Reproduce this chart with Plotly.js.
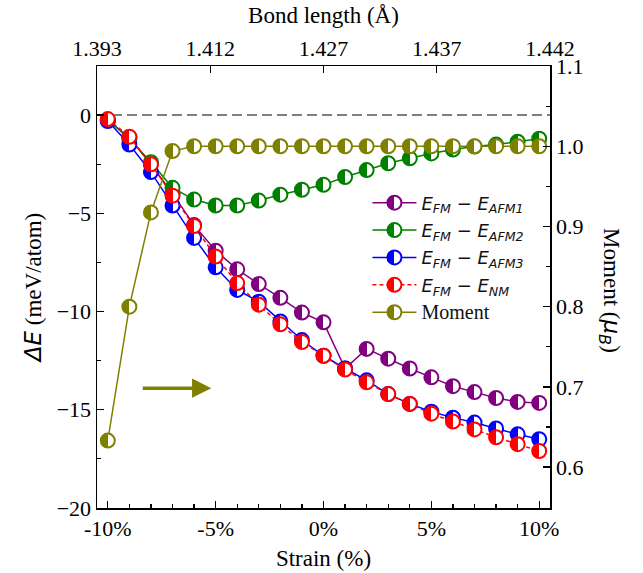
<!DOCTYPE html>
<html><head><meta charset="utf-8">
<script src="https://cdn.plot.ly/plotly-3.0.1.min.js"></script>
<style>body{margin:0;background:#fff}</style>
</head><body>
<div id="chart" style="width:643px;height:573px"></div>
<script>
// ---- data ----
const strain = [-10,-9,-8,-7,-6,-5,-4,-3,-2,-1,0,1,2,3,4,5,6,7,8,9,10];
const eAFM1 = [-0.25,-1.15,-2.5,-4.0,-5.6,-6.9,-7.85,-8.6,-9.3,-10.05,-10.55,-12.9,-11.9,-12.4,-12.9,-13.35,-13.8,-14.1,-14.4,-14.6,-14.65];
const eAFM2 = [-0.25,-1.2,-2.4,-3.7,-4.3,-4.6,-4.6,-4.35,-4.05,-3.8,-3.55,-3.15,-2.8,-2.45,-2.2,-1.95,-1.75,-1.6,-1.5,-1.35,-1.2];
const eAFM3 = [-0.3,-1.5,-2.9,-4.6,-6.25,-7.75,-8.9,-9.5,-10.5,-11.45,-12.25,-12.9,-13.5,-14.2,-14.7,-15.1,-15.4,-15.65,-15.95,-16.25,-16.5];
const eNM   = [-0.2,-1.1,-2.5,-4.1,-5.65,-7.2,-8.55,-9.65,-10.65,-11.55,-12.25,-12.95,-13.6,-14.2,-14.7,-15.2,-15.6,-16.0,-16.4,-16.75,-17.1];
const moment = [0.633,0.80,0.9175,0.994,1.0,1.0,1.0,1.0,1.0,1.0,1.0,1.0,1.0,1.0,1.0,1.0,1.0,1.0,1.0,1.0,1.0];
const strainTicks = [-10,-5,0,5,10];
const strainLabels = ['-10%','-5%','0%','5%','10%'];
const bondLabels = ['1.393','1.412','1.427','1.437','1.442'];
const leftTicks = [-20,-15,-10,-5,0];
const rightTicks = [0.6,0.7,0.8,0.9,1.0,1.1];
const rightLabels = ['0.6','0.7','0.8','0.9','1.0','1.1'];

const serif = 'Liberation Serif, Times New Roman, serif';
const sans = 'DejaVu Sans, sans-serif';
const lbl = (a,b)=>'<i>E</i><sub><i>'+a+'</i></sub> \u2212 <i>E</i><sub><i>'+b+'</i></sub>';

function mk(y, name, color, dash, axis){
  return {
    x: strain, y: y, name: name, type:'scatter', mode:'lines+markers',
    yaxis: axis || 'y', legendgroup: name,
    line:{color:color, width:1.5, dash: dash || 'solid'},
    marker:{size:14, color:color, symbol:'circle',
      line:{color:color, width:2},
      gradient:{type:'horizontal', color:'#ffffff'}},
    cliponaxis:false
  };
}
const traces = [
  mk(eAFM1, lbl('FM','AFM1'), '#800080'),
  mk(eAFM2, lbl('FM','AFM2'), '#008000'),
  mk(eAFM3, lbl('FM','AFM3'), '#0000ff'),
  mk(eNM, lbl('FM','NM'), '#ff0000', '4px,3px'),
  mk(moment, '<span style="font-family:Liberation Serif;font-size:20px">Moment</span>', '#808000', null, 'y2'),
  // carrier for the top (bond length) axis, draws nothing
  {x: bondLabels.map((_,i)=>i), y: bondLabels.map(()=>null), xaxis:'x2', yaxis:'y',
   type:'scatter', mode:'none', showlegend:false, hoverinfo:'skip'}
];

const axBase = {
  showline:true, linecolor:'#000', linewidth:1.5, ticks:'inside', ticklen:7, tickwidth:1.3,
  tickcolor:'#000', showgrid:false, zeroline:false,
  tickfont:{family:serif, size:22, color:'#000'}
};

const layout = {
  width:643, height:573,
  margin:{l:97, r:93, t:66, b:65},
  paper_bgcolor:'#fff', plot_bgcolor:'#fff',
  showlegend:true,
  legend:{x:0.597, y:0.732, xanchor:'left', yanchor:'top', bgcolor:'rgba(0,0,0,0)',
    traceorder:'grouped', font:{family:sans, size:18, color:'#111'}, tracegroupgap:1, itemwidth:44},
  xaxis: Object.assign({}, axBase, {
    range:[-10.5,10.5], tickmode:'array', tickvals:strainTicks, ticktext:strainLabels,
    minor:{tickmode:'linear', tick0:0, dtick:1, ticks:'inside', ticklen:4, tickwidth:1.2, tickcolor:'#000'},
    title:{text:'Strain (%)', font:{family:serif, size:23, color:'#000'}, standoff:10}
  }),
  xaxis2: Object.assign({}, axBase, {
    overlaying:'x', side:'top', anchor:'y',
    range:[0, bondLabels.length-1], tickmode:'array',
    tickvals: bondLabels.map((_,i)=>i), ticktext: bondLabels,
    title:{text:'Bond length (\u00C5)', font:{family:serif, size:23, color:'#000'}, standoff:5}
  }),
  yaxis: Object.assign({}, axBase, {
    range:[-20, 2.5], tickmode:'array', tickvals:leftTicks,
    minor:{tickmode:'linear', tick0:0, dtick:2.5, ticks:'inside', ticklen:4, tickwidth:1.2, tickcolor:'#000'},
    title:{text:'<span style="font-family:DejaVu Sans"><i>\u0394E</i></span> (meV/atom)', font:{family:serif, size:23, color:'#000'}, standoff:8}
  }),
  yaxis2: Object.assign({}, axBase, {
    overlaying:'y', side:'right', anchor:'x',
    range:[0.549, 1.1], tickmode:'array', tickvals:rightTicks, ticktext:rightLabels,
    minor:{tickmode:'linear', tick0:0.6, dtick:0.05, ticks:'inside', ticklen:4, tickwidth:1.2, tickcolor:'#000'}
  }),
  shapes:[{type:'line', xref:'paper', x0:0, x1:1, yref:'y', y0:0, y1:0,
    line:{color:'#808080', width:2, dash:'10px,5px'}, layer:'below'}],
  annotations:[
    {xref:'paper', yref:'paper', x:1.17, y:0.493, textangle:90, showarrow:false,
     text:'Moment (<span style="font-family:DejaVu Sans"><i>\u03BC<sub>B</sub></i></span>)',
     font:{family:serif, size:23, color:'#000'}},
    {xref:'x', yref:'y', x:-5.2, y:-13.9, axref:'x', ayref:'y', ax:-8.45, ay:-13.9,
     text:'', showarrow:true, arrowhead:2, arrowsize:1.1, arrowwidth:3.5, arrowcolor:'#808000'}
  ]
};

function hardenGradients(){
  const gd = document.getElementById('chart');
  gd.querySelectorAll('linearGradient').forEach(g=>{
    g.querySelectorAll('stop').forEach(s=>s.setAttribute('offset','50%'));
  });
}
const gd = document.getElementById('chart');
Plotly.newPlot(gd, traces, layout, {staticPlot:true}).then(()=>{
  hardenGradients();
  gd.on && gd.on('plotly_afterplot', hardenGradients);
});
</script>
</body></html>
